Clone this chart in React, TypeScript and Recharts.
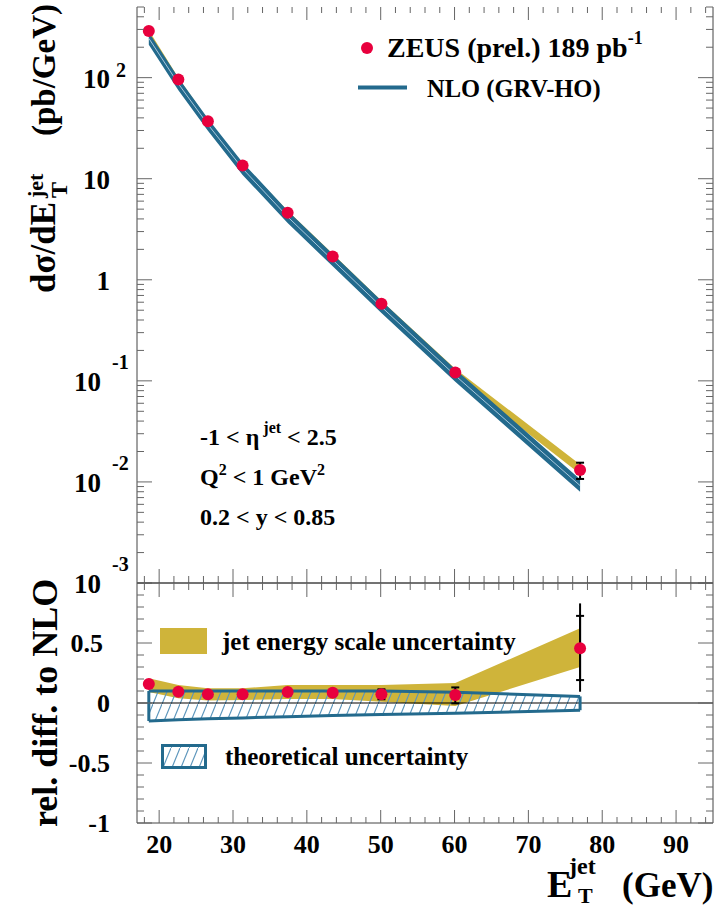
import React from "react";
import { ComposedChart, XAxis, YAxis, Area, Line, Scatter, ErrorBar, ReferenceLine } from "recharts";

// ---------------- data ----------------
const etJet = [18.6, 22.6, 26.6, 31.3, 37.4, 43.5, 50.1, 60.1, 77.0];

// upper panel: d sigma / dE_T (pb/GeV)
const zeusXsec = [290, 96, 37, 13.5, 4.6, 1.7, 0.58, 0.121, 0.0131];
const zeusXsecErrLow = [0, 0, 0, 0, 0, 0, 0, 0, 0.0024];
const zeusXsecErrHigh = [0, 0, 0, 0, 0, 0, 0, 0, 0.0024];
const nloXsec = [245, 87, 34.4, 12.6, 4.2, 1.57, 0.54, 0.113, 0.0092];
const nloXsecLow = [212, 75, 29.8, 10.9, 3.64, 1.36, 0.468, 0.098, 0.008];
const nloXsecHigh = [282, 100, 39.5, 14.5, 4.83, 1.8, 0.62, 0.13, 0.0106];
const jesXsecLow = [267, 90.5, 35.1, 12.9, 4.34, 1.62, 0.546, 0.11, 0.012];
const jesXsecHigh = [295, 100, 38.6, 14.1, 4.83, 1.81, 0.621, 0.132, 0.0149];

// lower panel: relative difference to NLO
const relDiff = [0.158, 0.094, 0.072, 0.072, 0.092, 0.086, 0.072, 0.067, 0.456];
const relStatLow = [0, 0, 0, 0, 0, 0, 0.041, 0.07, 0.265];
const relStatHigh = [0, 0, 0, 0, 0, 0, 0.042, 0.063, 0.27];
const relTotLow = [0, 0, 0, 0, 0, 0, 0, 0, 0.362];
const relTotHigh = [0, 0, 0, 0, 0, 0, 0, 0, 0.374];
const jesRelLow = [0.092, 0.04, 0.02, 0.025, 0.033, 0.033, 0.011, -0.025, 0.3];
const jesRelHigh = [0.206, 0.15, 0.122, 0.122, 0.15, 0.15, 0.15, 0.167, 0.622];
const theoRelLow = [-0.15, -0.14, -0.132, -0.124, -0.115, -0.105, -0.095, -0.085, -0.06];
const theoRelHigh = [0.1, 0.1, 0.1, 0.1, 0.1, 0.1, 0.1, 0.09, 0.055];

// ticks
const xMajorTicks = [20, 30, 40, 50, 60, 70, 80, 90];
const xMajorLabels = ["20", "30", "40", "50", "60", "70", "80", "90"];
const xAllTicks: number[] = [];
for (let v = 18; v <= 94; v += 2) xAllTicks.push(v);

const logMajorTicks = [0.001, 0.01, 0.1, 1, 10, 100];
const logMajorBase = ["10", "10", "10", "1", "10", "10"];
const logMajorExp = ["-3", "-2", "-1", "", "", "2"];
const logAllTicks: number[] = [];
logMajorTicks.forEach((b) => {
  for (let m = 1; m <= 9; m++) {
    const v = m * b;
    if (v <= 500.0001) logAllTicks.push(v);
  }
});

const relMajorTicks = [-1, -0.5, 0, 0.5, 1];
const relMajorLabels = ["-1", "-0.5", "0", "0.5", ""];
const relAllTicks = [-1, -0.9, -0.8, -0.7, -0.6, -0.5, -0.4, -0.3, -0.2, -0.1, 0, 0.1, 0.2, 0.3, 0.4, 0.5, 0.6, 0.7, 0.8, 0.9, 1];

// ---------------- styles ----------------
const FONT = "'Liberation Serif', 'Times New Roman', serif";
const BLUE = "#236a8d";
const YELLOW = "#cfb43a";
const RED = "#e8003d";
const HATCH = "#5b95bb";
const AXIS = "#444";
const TICK = "#666";

const topRows = etJet.map((x, i) => ({
  x,
  zeus: zeusXsec[i],
  zeusErr: [zeusXsecErrLow[i], zeusXsecErrHigh[i]],
  nlo: nloXsec[i],
  nloBand: [nloXsecLow[i], nloXsecHigh[i]],
  jesBand: [jesXsecLow[i], jesXsecHigh[i]],
}));

const bottomRows = etJet.map((x, i) => ({
  x,
  rel: relDiff[i],
  statErr: [relStatLow[i], relStatHigh[i]],
  totErr: [relTotLow[i], relTotHigh[i]],
  jesBand: [jesRelLow[i], jesRelHigh[i]],
  theoBand: [theoRelLow[i], theoRelHigh[i]],
}));

const near = (a: number, b: number) => Math.abs(a - b) < 1e-6 * Math.max(1, Math.abs(b));

// ---------------- tick renderers ----------------
const makeXTick = (dir: number, majorLen: number, minorLen: number, labelY?: number) => (p: any) => {
  const { x, y, payload } = p;
  const v = payload.value;
  const idx = xMajorTicks.findIndex((t) => near(v, t));
  const major = idx >= 0;
  const len = major ? majorLen : minorLen;
  return (
    <g>
      <line x1={x} x2={x} y1={y} y2={y + dir * len} stroke={TICK} strokeWidth={1} />
      {labelY !== undefined && major ? (
        <text x={x} y={labelY} textAnchor="middle" fontFamily={FONT} fontWeight="bold" fontSize={26} fill="#000">
          {xMajorLabels[idx]}
        </text>
      ) : null}
    </g>
  );
};

const makeLogTick = (dir: number, withLabel: boolean) => (p: any) => {
  const { x, y, payload } = p;
  const v = payload.value;
  const idx = logMajorTicks.findIndex((t) => Math.abs(v / t - 1) < 1e-6);
  const major = idx >= 0;
  const len = major ? 15 : 7;
  let label: React.ReactNode = null;
  if (withLabel && major) {
    const base = logMajorBase[idx];
    const exp = logMajorExp[idx];
    const neg = exp.startsWith("-");
    const baseEnd = exp === "" ? 110 : neg ? 101 : 110;
    label = (
      <g fontFamily={FONT} fontWeight="bold" fill="#000">
        <text x={baseEnd} y={y + 10} textAnchor="end" fontSize={27}>
          {base}
        </text>
        {exp !== "" ? (
          <text x={neg ? 112 : 116} y={neg ? y - 12 : y - 1} textAnchor="start" fontSize={20}>
            {exp}
          </text>
        ) : null}
      </g>
    );
  }
  return (
    <g>
      <line x1={x} x2={x + dir * len} y1={y} y2={y} stroke={TICK} strokeWidth={1} />
      {label}
    </g>
  );
};

const makeRelTick = (dir: number, withLabel: boolean) => (p: any) => {
  const { x, y, payload } = p;
  const v = payload.value;
  const idx = relMajorTicks.findIndex((t) => near(v, t));
  const major = idx >= 0;
  const len = major ? 15 : 7;
  const lab = major ? relMajorLabels[idx] : "";
  return (
    <g>
      <line x1={x} x2={x + dir * len} y1={y} y2={y} stroke={TICK} strokeWidth={1} />
      {withLabel && lab !== "" ? (
        <text x={lab === "0.5" ? 103 : 110} y={y + 9} textAnchor="end" fontFamily={FONT} fontWeight="bold" fontSize={26} fill="#000">
          {lab}
        </text>
      ) : null}
    </g>
  );
};

const dot = (p: any) => <circle cx={p.cx} cy={p.cy} r={6} fill={RED} />;

const xAxisCommon = {
  xAxisId: "b",
  type: "number" as const,
  dataKey: "x",
  domain: [17, 95] as [number, number],
  allowDataOverflow: true,
  ticks: xAllTicks,
  interval: 0 as const,
  tickSize: 0,
  tickMargin: 0,
  height: 1,
  tickLine: false,
};

// ---------------- component ----------------
export default function App() {
  const first = bottomRows[0];
  const last = bottomRows[bottomRows.length - 1];
  return (
    <div style={{ position: "absolute", left: 0, top: 0, width: 714, height: 909, background: "#fff", overflow: "hidden" }}>
      {/* upper panel */}
      <div style={{ position: "absolute", left: 0, top: 0 }}>
        <ComposedChart width={714} height={600} data={topRows} margin={{ top: 6, right: 0, bottom: 16, left: 0 }}>
          <XAxis {...xAxisCommon} xAxisId="b" axisLine={{ stroke: AXIS }} tick={makeXTick(-1, 14, 7)} />
          <XAxis {...xAxisCommon} xAxisId="t" orientation="top" axisLine={false} tick={makeXTick(1, 13, 6)} />
          <YAxis
            yAxisId="l"
            scale="log"
            type="number"
            domain={[0.001, 500]}
            allowDataOverflow
            ticks={logAllTicks}
            interval={0}
            tickSize={0}
            tickMargin={0}
            width={137}
            axisLine={{ stroke: AXIS }}
            tickLine={false}
            tick={makeLogTick(1, true)}
          />
          <YAxis
            yAxisId="r"
            orientation="right"
            scale="log"
            type="number"
            domain={[0.001, 500]}
            allowDataOverflow
            ticks={logAllTicks}
            interval={0}
            tickSize={0}
            tickMargin={0}
            width={1}
            axisLine={{ stroke: AXIS }}
            tickLine={false}
            tick={makeLogTick(-1, false)}
          />
          <Area xAxisId="b" yAxisId="l" dataKey="jesBand" fill={YELLOW} fillOpacity={1} stroke="none" isAnimationActive={false} />
          <Area xAxisId="b" yAxisId="l" dataKey="nloBand" fill={BLUE} fillOpacity={1} stroke="none" isAnimationActive={false} />
          <Line xAxisId="b" yAxisId="l" dataKey="nlo" stroke="#a8c8dc" strokeWidth={1} dot={false} isAnimationActive={false} />
          <Scatter xAxisId="b" yAxisId="l" data={topRows} dataKey="zeus" shape={dot} isAnimationActive={false}>
            <ErrorBar dataKey="zeusErr" direction="y" width={4} strokeWidth={2} stroke="#000" />
          </Scatter>
        </ComposedChart>
      </div>

      {/* lower panel */}
      <div style={{ position: "absolute", left: 0, top: 0 }}>
        <ComposedChart width={714} height={909} data={bottomRows} margin={{ top: 582, right: 0, bottom: 85, left: 0 }}>
          <defs>
            <pattern id="theoHatch" patternUnits="userSpaceOnUse" width={9} height={22}>
              <path d="M-1,24.4 L10,-2.4" stroke={HATCH} strokeWidth={1.2} />
            </pattern>
          </defs>
          <XAxis {...xAxisCommon} xAxisId="b" axisLine={{ stroke: AXIS }} tick={makeXTick(-1, 13, 6, 853)} />
          <XAxis {...xAxisCommon} xAxisId="t" orientation="top" axisLine={{ stroke: AXIS }} tick={makeXTick(1, 14, 7)} />
          <YAxis
            yAxisId="l"
            type="number"
            domain={[-1, 1]}
            allowDataOverflow
            ticks={relAllTicks}
            interval={0}
            tickSize={0}
            tickMargin={0}
            width={137}
            axisLine={{ stroke: AXIS }}
            tickLine={false}
            tick={makeRelTick(1, true)}
          />
          <YAxis
            yAxisId="r"
            orientation="right"
            type="number"
            domain={[-1, 1]}
            allowDataOverflow
            ticks={relAllTicks}
            interval={0}
            tickSize={0}
            tickMargin={0}
            width={1}
            axisLine={{ stroke: AXIS }}
            tickLine={false}
            tick={makeRelTick(-1, false)}
          />
          <ReferenceLine xAxisId="b" yAxisId="l" y={0} stroke="#000" strokeWidth={1.2} />
          <Area xAxisId="b" yAxisId="l" dataKey="jesBand" fill={YELLOW} fillOpacity={1} stroke="none" isAnimationActive={false} />
          <Area
            xAxisId="b"
            yAxisId="l"
            dataKey="theoBand"
            fill="url(#theoHatch)"
            fillOpacity={1}
            stroke={BLUE}
            strokeWidth={3}
            isAnimationActive={false}
          />
          <ReferenceLine
            xAxisId="b"
            yAxisId="l"
            segment={[
              { x: first.x, y: first.theoBand[0] },
              { x: first.x, y: first.theoBand[1] },
            ]}
            stroke={BLUE}
            strokeWidth={3}
          />
          <ReferenceLine
            xAxisId="b"
            yAxisId="l"
            segment={[
              { x: last.x, y: last.theoBand[0] },
              { x: last.x, y: last.theoBand[1] },
            ]}
            stroke={BLUE}
            strokeWidth={3}
          />
          <Scatter xAxisId="b" yAxisId="l" data={bottomRows} dataKey="rel" shape={dot} isAnimationActive={false}>
            <ErrorBar dataKey="totErr" direction="y" width={0} strokeWidth={2} stroke="#000" />
            <ErrorBar dataKey="statErr" direction="y" width={4} strokeWidth={2} stroke="#000" />
          </Scatter>
        </ComposedChart>
      </div>

      {/* titles, legends and annotations */}
      <svg width={714} height={909} style={{ position: "absolute", left: 0, top: 0, pointerEvents: "none" }}>
        <defs>
          <pattern id="legHatch" patternUnits="userSpaceOnUse" width={9} height={22}>
            <path d="M-1,24.4 L10,-2.4" stroke={HATCH} strokeWidth={1.2} />
          </pattern>
        </defs>
        <g fontFamily={FONT} fontWeight="bold" fill="#000">
          {/* y title upper */}
          <text transform="translate(55,293) rotate(-90)" fontSize={35}>dσ/dE</text>
          <text transform="translate(43,198) rotate(-90)" fontSize={22}>jet</text>
          <text transform="translate(67,198) rotate(-90)" fontSize={24}>T</text>
          <text transform="translate(55,136) rotate(-90)" fontSize={33}>(pb/GeV)</text>
          {/* y title lower */}
          <text transform="translate(57,827) rotate(-90)" fontSize={36}>rel. diff. to NLO</text>
          {/* x title */}
          <text x={547} y={897} fontSize={38}>E</text>
          <text x={569} y={874} fontSize={24}>jet</text>
          <text x={578} y={903} fontSize={22}>T</text>
          <text x={622} y={897} fontSize={35}>(GeV)</text>

          {/* upper legend */}
          <circle cx={367} cy={48} r={6} fill={RED} />
          <text x={387} y={57} fontSize={28}>
            ZEUS (prel.) 189 pb<tspan dy={-13} fontSize={18}>-1</tspan>
          </text>
          <line x1={358} x2={407} y1={87.5} y2={87.5} stroke={BLUE} strokeWidth={4} />
          <text x={427} y={97} fontSize={24.5}>NLO (GRV-HO)</text>

          {/* cuts */}
          <text x={200} y={445} fontSize={24}>
            -1 &lt; η<tspan dy={-12} fontSize={16}> jet</tspan>
            <tspan dy={12}> &lt; 2.5</tspan>
          </text>
          <text x={200} y={485} fontSize={24}>
            Q<tspan dy={-10} fontSize={16}>2</tspan>
            <tspan dy={10}> &lt; 1 GeV</tspan>
            <tspan dy={-10} fontSize={16}>2</tspan>
          </text>
          <text x={200} y={525} fontSize={24}>0.2 &lt; y &lt; 0.85</text>

          {/* lower legend */}
          <rect x={160} y={628} width={47} height={26} fill={YELLOW} />
          <text x={222} y={650} fontSize={25}>jet energy scale uncertainty</text>
          <rect x={162.5} y={745.5} width={43} height={22} fill="url(#legHatch)" stroke={BLUE} strokeWidth={3} />
          <text x={225} y={765} fontSize={25}>theoretical uncertainty</text>
        </g>
      </svg>
    </div>
  );
}
